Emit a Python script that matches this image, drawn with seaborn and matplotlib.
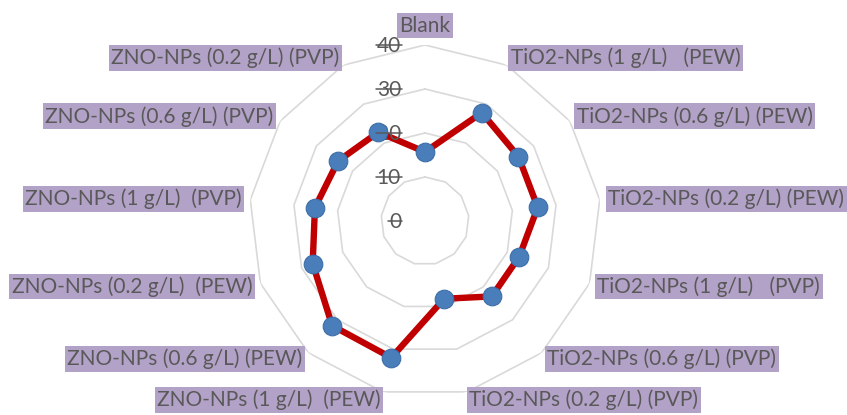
import numpy as np
import pandas as pd
import matplotlib
matplotlib.use("Agg")
import matplotlib.pyplot as plt
from matplotlib.lines import Line2D
import seaborn as sns

categories = [
    "Blank",
    "TiO2-NPs (1 g/L)   (PEW)",
    "TiO2-NPs (0.6 g/L) (PEW)",
    "TiO2-NPs (0.2 g/L) (PEW)",
    "TiO2-NPs (1 g/L)   (PVP)",
    "TiO2-NPs (0.6 g/L) (PVP)",
    "TiO2-NPs (0.2 g/L) (PVP)",
    "ZNO-NPs (1 g/L)  (PEW)",
    "ZNO-NPs (0.6 g/L) (PEW)",
    "ZNO-NPs (0.2 g/L)  (PEW)",
    "ZNO-NPs (1 g/L)  (PVP)",
    "ZNO-NPs (0.6 g/L) (PVP)",
    "ZNO-NPs (0.2 g/L) (PVP)",
]
values = [15.7, 27.8, 25.8, 25.8, 22.9, 22.9, 18.2, 32.0, 31.8, 27.3, 25.2, 24.0, 22.8]
ring_ticks = [0, 10, 20, 30, 40]

W, H, DPI = 847, 415, 100
sns.set_theme(style="white")
plt.rcParams["font.family"] = ["Lato", "DejaVu Sans"]

fig = plt.figure(figsize=(W / DPI, H / DPI), dpi=DPI)
cx, cy, R = 425, 221, 176
ax = fig.add_axes([(cx - R) / W, (H - cy - R) / H, 2 * R / W, 2 * R / H], projection="polar")
ax.set_theta_zero_location("N")
ax.set_theta_direction(-1)
ax.set_ylim(0, 40)
ax.grid(False)
ax.spines["polar"].set_visible(False)
ax.set_xticks([])
ax.set_yticks([])
ax.patch.set_alpha(0)

n = len(categories)
theta = np.arange(n) * 2 * np.pi / n
theta_closed = np.append(theta, 2 * np.pi)

# polygon gridlines
for r in ring_ticks[1:]:
    ax.plot(theta_closed, [r] * len(theta_closed), color="#d9d9d9", lw=1.2, zorder=1)

df = pd.DataFrame({"theta": theta_closed, "value": values + [values[0]]})
sns.lineplot(data=df, x="theta", y="value", sort=False, estimator=None, ax=ax,
             color="#c00000", lw=4.6, zorder=3)
sns.scatterplot(x=theta, y=values, ax=ax, s=180, color="#4a7ebb", edgecolor="#3d6ea8",
                linewidth=0.8, zorder=4)
ax.set_xlabel("")
ax.set_ylabel("")

txt_color = "#595959"
purple = "#b3a2c7"
r_lab = 41.9
for th, lab in zip(theta, categories):
    deg = np.degrees(th)
    if deg < 1:
        ha, va, rr = "center", "bottom", 42.1
    elif deg < 180:
        ha, va, rr = "left", "center", r_lab
    else:
        ha, va, rr = "right", "center", r_lab
    ax.text(th, rr, lab, ha=ha, va=va, fontsize=15, color=txt_color, clip_on=False,
            bbox=dict(boxstyle="square,pad=0.12", fc=purple, ec="none"))

tick_texts = []
for v in ring_ticks:
    t = ax.annotate(str(v), xy=(0, v), xytext=(-24, -1), textcoords="offset pixels",
                    ha="right", va="center", fontsize=15, color=txt_color, annotation_clip=False)
    tick_texts.append((v, t))

fig.canvas.draw()
inv = fig.transFigure.inverted()
for v, t in tick_texts:
    bb = t.get_window_extent()
    y = ax.transData.transform((0, v))[1]
    p0 = inv.transform((bb.x0 - 1, y))
    p1 = inv.transform((bb.x1 + 1, y))
    fig.add_artist(Line2D([p0[0], p1[0]], [p0[1], p1[1]], color=txt_color, lw=1.1))

fig.savefig("out.png", dpi=DPI)
